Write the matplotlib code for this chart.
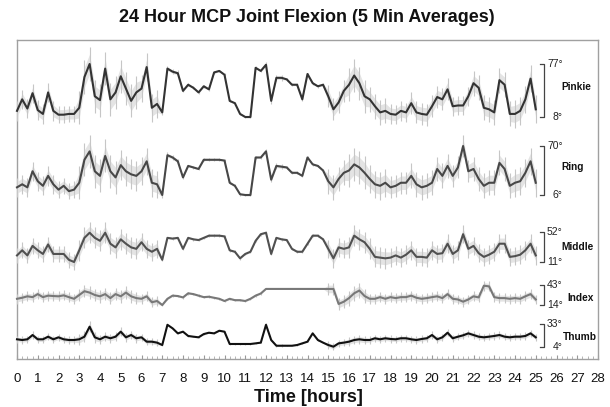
import numpy as np
import matplotlib
matplotlib.use("Agg")
import matplotlib.pyplot as plt
from matplotlib.ticker import MultipleLocator

plt.rcParams['font.family'] = ['Liberation Sans', 'DejaVu Sans']

# ---------------- data (degrees, 15-min samples) -------------
hours = np.arange(0, 25.01, 0.25)

pinkie = [16, 31, 19, 39, 17, 12, 40, 16, 11, 11, 12, 12, 20, 60, 77, 35,
          30, 71, 31, 40, 61, 45, 29, 40, 45, 73, 20, 25, 14, 71, 67, 65,
          42, 50, 46, 40, 48, 44, 66, 68, 63, 29, 26, 12, 8, 8, 72, 68,
          76, 29, 59, 59, 57, 50, 50, 31, 64, 52, 48, 50, 35, 18, 27, 42,
          50, 62, 52, 35, 31, 22, 14, 16, 12, 11, 16, 14, 26, 14, 12, 11,
          22, 34, 31, 44, 22, 23, 23, 35, 52, 46, 20, 18, 14, 56, 50, 12,
          12, 16, 31, 58, 18]
ring = [16, 20, 16, 37, 24, 18, 31, 20, 13, 18, 11, 13, 22, 52, 63, 37,
        31, 57, 37, 29, 45, 37, 33, 31, 37, 50, 22, 20, 6, 58, 55, 50,
        29, 44, 42, 40, 52, 52, 52, 52, 51, 22, 18, 7, 6, 6, 55, 55,
        63, 26, 44, 43, 42, 35, 35, 31, 55, 46, 44, 38, 24, 16, 27, 35,
        38, 46, 42, 35, 27, 20, 18, 22, 16, 18, 22, 22, 31, 20, 16, 18,
        22, 40, 31, 44, 31, 42, 70, 37, 40, 27, 18, 22, 22, 48, 40, 18,
        22, 24, 35, 50, 22]
middle = [20, 27, 20, 33, 27, 22, 35, 22, 22, 22, 14, 11, 27, 44, 51, 44,
          40, 51, 36, 31, 42, 36, 31, 29, 38, 29, 25, 29, 14, 44, 43, 44,
          29, 44, 42, 41, 44, 47, 47, 47, 46, 27, 25, 16, 22, 25, 40, 49,
          51, 22, 44, 42, 41, 29, 25, 25, 36, 47, 47, 42, 29, 16, 31, 29,
          31, 47, 42, 38, 29, 18, 17, 16, 17, 20, 17, 21, 27, 18, 18, 17,
          27, 22, 23, 36, 22, 27, 49, 29, 33, 23, 18, 21, 25, 36, 36, 18,
          19, 21, 27, 36, 20]
index = [23, 24.5, 26.6, 25.4, 29.8, 25.4, 27.6, 27, 26.6, 28, 25.4, 23,
         28.5, 34, 32, 28.5, 26.6, 29.8, 24, 29.8, 26.6, 32, 26.6, 24,
         23, 26.6, 18, 19.8, 14, 23, 27.6, 27, 25, 31, 29.8, 27.6,
         25.4, 26, 24.5, 23, 19.8, 23, 21, 21, 19.8, 23, 27.6, 30.7,
         37.3, 37.3, 37.3, 37.3, 37.3, 37.3, 37.3, 37.3, 37.3, 37.3, 37.3, 37.3,
         37.3, 37.3, 15.5, 18.8, 24, 31, 35, 27, 23, 23, 25.4, 23,
         25.4, 24, 25.4, 25.4, 27.6, 24.5, 23, 24, 25.4, 26.6, 24, 29.8,
         23, 22, 18.8, 22, 26.6, 25, 42, 41, 25.4, 24, 24, 23,
         24, 23, 26.6, 29.8, 22]
thumb = [13.7, 12.8, 13.7, 19.1, 13.7, 13.7, 17, 13.7, 16.2, 13.7, 12.8, 12.8,
         13.7, 17, 29.6, 16.2, 13.7, 17, 15, 17, 23.3, 16.2, 19.1, 15,
         16.2, 10.7, 10.7, 9.5, 6.5, 32, 27.5, 21.2, 23.3, 17.9, 17, 16.2,
         20.3, 22, 21.2, 24.5, 23.3, 7.8, 7.8, 7.8, 7.8, 7.8, 8.6, 9.5,
         32, 12.8, 5.6, 5.6, 5.6, 5.6, 6.5, 8.6, 10.7, 21.2, 12.8, 9.5,
         6.5, 4.4, 8.6, 9.5, 10.7, 12.8, 13.7, 12.8, 12.8, 15, 13.7, 15,
         14.1, 13.7, 15, 15, 13.7, 12.8, 14.1, 15, 19.1, 13.7, 16.2, 22,
         15, 17, 18.7, 21.2, 19.1, 17, 16.2, 17, 17.9, 19.1, 17, 16.2,
         17, 17, 17.9, 21.2, 16.2]

# hourly spread (half-width of the grey 5-min bars, degrees), hours 0..24
pinkie_sd = [7, 7, 6, 12, 12, 12, 10, 2, 1, 1, 1, 1, 2, 1, 1, 8, 12, 9, 7, 8, 8, 7, 9, 9, 10]
ring_sd = [7, 7, 6, 12, 12, 11, 10, 2, 1, 1, 1, 1, 2, 1, 1, 9, 12, 10, 8, 9, 9, 8, 9, 9, 10]
middle_sd = [6, 6, 6, 8, 8, 8, 7, 1, 1, 1, 1, 1, 1, 1, 1, 7, 8, 8, 7, 7, 7, 7, 7, 7, 7]
index_sd = [4, 4, 4, 5, 5, 5, 4, 1, 1, 1, 1, 1, 0, 0, 0, 5, 6, 4, 4, 4, 4, 4, 4, 4, 4]
thumb_sd = [2.5, 2.5, 2.5, 4, 3, 3, 2.5, 0.5, 0.5, 0.5, 0.5, 0.5, 1, 0.5, 0.5,
            2.5, 3, 2.5, 2.5, 2.5, 2.5, 2.5, 2.5, 2.5, 2.5]

names = ["Pinkie", "Ring", "Middle", "Index", "Thumb"]
lows = [8, 6, 11, 14, 4]
highs = [77, 70, 52, 43, 33]
xticks = list(range(0, 29))

# ---------------- layout ----------------
W, H = 610, 407
fig = plt.figure(figsize=(W / 100, H / 100), dpi=100)

def fx(x):
    return x / W

def fy(y):
    return 1 - y / H

L, R, T, B = 17, 598, 40, 359
main = fig.add_axes([fx(L), fy(B), fx(R - L), (B - T) / H])
main.set_xlim(0, 28)
main.set_ylim(0, 1)
main.set_yticks([])
main.set_xticks(xticks)
main.xaxis.set_minor_locator(MultipleLocator(0.25))
main.tick_params(axis='x', which='major', direction='in', length=3, color='#999999',
                 labelsize=9.5, pad=10, labelcolor='#111111')
main.tick_params(axis='x', which='minor', direction='in', length=2, color='#aaaaaa')
for s in main.spines.values():
    s.set_color('#a0a0a0')
    s.set_linewidth(1.0)

# pixel band of each trace (top, bottom)
bands = [(64, 117), (146, 195), (232, 262), (285, 305), (324, 347)]
colors = ['#333333', '#474747', '#505050', '#787878', '#111111']
name_pos = [(561, 87), (561, 167), (561, 247), (567, 298), (563, 337)]

series = [pinkie, ring, middle, index, thumb]
spreads = [pinkie_sd, ring_sd, middle_sd, index_sd, thumb_sd]

for k in range(5):
    top, bot = bands[k]
    ax = fig.add_axes([fx(L), fy(bot), fx(R - L), (bot - top) / H])
    ax.set_xlim(0, 28)
    ax.set_ylim(lows[k], highs[k])
    ax.axis('off')
    ax.patch.set_alpha(0)
    v = np.array(series[k], dtype=float)
    e = np.array(spreads[k], dtype=float)[np.minimum(hours.astype(int), 24)]
    ax.fill_between(hours, v - 1.1 * e, v + 1.1 * e, color='#e4e4e4', lw=0,
                    clip_on=False, zorder=1)
    ax.vlines(hours, v - 1.8 * e, v + 1.8 * e, colors='#c6c6c6', lw=0.8,
              clip_on=False, zorder=2)
    ax.plot(hours, v, color=colors[k], lw=1.5, clip_on=False, zorder=3)
    # bracket
    ax.plot([25.2, 25.42, 25.42, 25.2], [highs[k], highs[k], lows[k], lows[k]],
            color='#444444', lw=0.9, clip_on=False)
    for val in (highs[k], lows[k]):
        lab = f"{val}°"
        xx = 25.92 if len(lab) == 3 else 26.05
        ax.text(xx, val, lab, ha='center', va='center', fontsize=7.5,
                color='#222222', clip_on=False)
    nx, ny = name_pos[k]
    fig.text(fx(nx), fy(ny), names[k], ha='left', va='center', fontsize=7.3,
             fontweight='bold', color='#111111')

fig.text(fx(307), fy(18), "24 Hour MCP Joint Flexion (5 Min Averages)", ha='center',
         va='center', fontsize=13, fontweight='bold', color='#111111')
fig.text(fx(308), fy(398), "Time [hours]", ha='center', va='center', fontsize=13,
         fontweight='bold', color='#111111')

fig.savefig("out.png", dpi=100)
